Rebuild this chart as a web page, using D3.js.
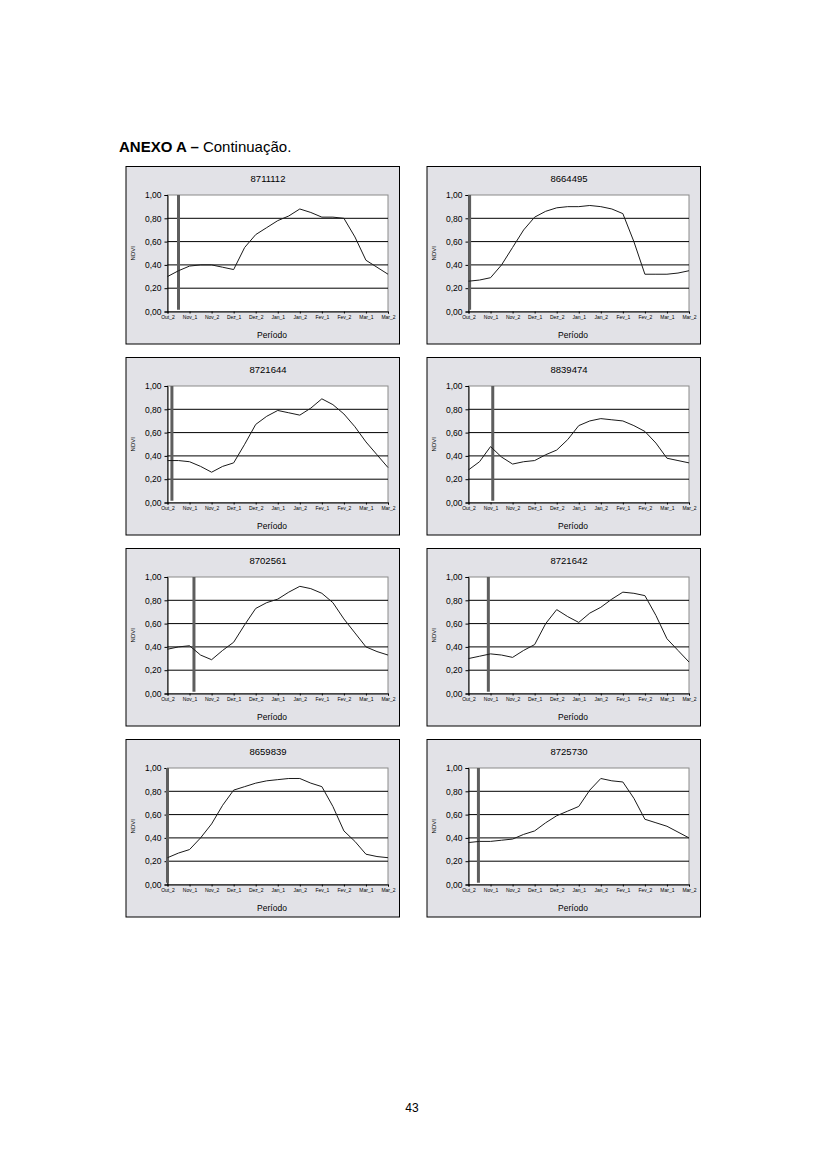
<!DOCTYPE html>
<html lang="pt">
<head>
<meta charset="utf-8">
<title>ANEXO A - Continuação</title>
<script src="https://d3js.org/d3.v7.min.js"></script>
<style>
  body { margin: 0; background: #fff; }
  text { font-family: "Liberation Sans", Arial, sans-serif; fill: #000; }
  .box { fill: #e2e2e7; stroke: #000; stroke-width: 1; }
  .plot { fill: #fff; stroke: #8a8a8a; stroke-width: 1; }
  .grid { stroke: #000; stroke-width: 1; }
  .serie { fill: none; stroke: #1a1a1a; stroke-width: 1; }
  .marco { stroke: #5e5e5e; stroke-width: 3; }
  .axis path, .axis line { stroke: #000; }
</style>
</head>
<body>
<div id="page"></div>
<script>
// tick labels along the x axis (semimonthly periods)
var periodos = ["Out_2", "Nov_1", "Nov_2", "Dez_1", "Dez_2", "Jan_1", "Jan_2", "Fev_1", "Fev_2", "Mar_1", "Mar_2"];
// positions of the samples, in periods (one sample each half period)
var amostras = [0, 0.5, 1, 1.5, 2, 2.5, 3, 3.5, 4, 4.5, 5, 5.5, 6, 6.5, 7, 7.5, 8, 8.5, 9, 9.5, 10];
var yTicks = [0, 0.2, 0.4, 0.6, 0.8, 1.0];

// chart titles
var talhoes = ["8711112", "8664495", "8721644", "8839474", "8702561", "8721642", "8659839", "8725730"];

// NDVI series, one per chart
var ndvi8711112 = [0.30, 0.35, 0.39, 0.40, 0.40, 0.38, 0.36, 0.55, 0.66, 0.72, 0.78, 0.82, 0.88, 0.85, 0.81, 0.81, 0.80, 0.64, 0.44, 0.38, 0.32];
var ndvi8664495 = [0.26, 0.27, 0.29, 0.40, 0.55, 0.70, 0.81, 0.86, 0.89, 0.90, 0.90, 0.91, 0.90, 0.88, 0.84, 0.60, 0.32, 0.32, 0.32, 0.33, 0.35];
var ndvi8721644 = [0.36, 0.36, 0.35, 0.31, 0.26, 0.31, 0.34, 0.50, 0.67, 0.74, 0.79, 0.77, 0.75, 0.81, 0.89, 0.84, 0.76, 0.65, 0.52, 0.41, 0.30];
var ndvi8839474 = [0.28, 0.35, 0.48, 0.39, 0.33, 0.35, 0.36, 0.41, 0.45, 0.54, 0.66, 0.70, 0.72, 0.71, 0.70, 0.66, 0.61, 0.51, 0.38, 0.36, 0.34];
var ndvi8702561 = [0.38, 0.40, 0.41, 0.33, 0.29, 0.37, 0.44, 0.59, 0.73, 0.78, 0.81, 0.87, 0.92, 0.90, 0.86, 0.78, 0.64, 0.52, 0.40, 0.36, 0.33];
var ndvi8721642 = [0.30, 0.32, 0.34, 0.33, 0.31, 0.37, 0.42, 0.60, 0.72, 0.66, 0.61, 0.69, 0.74, 0.81, 0.87, 0.86, 0.84, 0.67, 0.47, 0.37, 0.27];
var ndvi8659839 = [0.23, 0.27, 0.30, 0.40, 0.52, 0.68, 0.81, 0.84, 0.87, 0.89, 0.90, 0.91, 0.91, 0.87, 0.84, 0.67, 0.46, 0.37, 0.26, 0.24, 0.23];
var ndvi8725730 = [0.36, 0.37, 0.37, 0.38, 0.39, 0.43, 0.46, 0.53, 0.59, 0.63, 0.67, 0.81, 0.91, 0.89, 0.88, 0.74, 0.56, 0.53, 0.50, 0.45, 0.40];

// position of the vertical marker, in periods
var marcos = [0.5, 0.05, 0.2, 1.1, 1.2, 0.9, 0.0, 0.45];

var series = [ndvi8711112, ndvi8664495, ndvi8721644, ndvi8839474, ndvi8702561, ndvi8721642, ndvi8659839, ndvi8725730];

var W = 826, H = 1169;
var svg = d3.select("#page").append("svg")
  .attr("width", W).attr("height", H)
  .attr("viewBox", "0 0 " + W + " " + H);

// page heading
var head = svg.append("text").attr("x", 119).attr("y", 152).style("font-size", "15px");
head.append("tspan").style("font-weight", "bold").text("ANEXO A \u2013 ");
head.append("tspan").text("Continuação.");

svg.append("text").attr("x", 412).attr("y", 1112)
  .attr("text-anchor", "middle").style("font-size", "12px").text("43");

var colX = [126, 427], rowY = [166.5, 357.5, 548.5, 739.5];
var boxW = 273.5, boxH = 177.5;
var m = {left: 41.5, right: 11.5, top: 28.5, bottom: 32.5};

var fmt = function(v) { return d3.format(".2f")(v).replace(".", ","); };

series.forEach(function(vals, i) {
  var g = svg.append("g")
    .attr("transform", "translate(" + colX[i % 2] + "," + rowY[Math.floor(i / 2)] + ")");

  var x = d3.scaleLinear().domain([0, periodos.length - 1]).range([m.left, boxW - m.right]);
  var y = d3.scaleLinear().domain([0, 1]).range([boxH - m.bottom, m.top]);

  g.append("rect").attr("class", "box").attr("width", boxW).attr("height", boxH);
  g.append("rect").attr("class", "plot")
    .attr("x", x(0)).attr("y", y(1))
    .attr("width", x(10) - x(0)).attr("height", y(0) - y(1));

  // gridlines
  g.selectAll(".grid").data(yTicks.slice(1, -1)).enter().append("line")
    .attr("class", "grid")
    .attr("x1", x(0)).attr("x2", x(10))
    .attr("y1", function(d) { return y(d); }).attr("y2", function(d) { return y(d); });

  // axes
  var ya = g.append("g").attr("class", "axis")
    .attr("transform", "translate(" + x(0) + ",0)")
    .call(d3.axisLeft(y).tickValues(yTicks).tickFormat(fmt).tickSize(3).tickPadding(3));
  ya.selectAll("text").style("font-size", "8.5px");

  var xa = g.append("g").attr("class", "axis")
    .attr("transform", "translate(0," + y(0) + ")")
    .call(d3.axisBottom(x).tickValues(d3.range(periodos.length))
      .tickFormat(function(d) { return periodos[d]; }).tickSize(2).tickPadding(2));
  xa.selectAll("text").style("font-size", "5px");

  // vertical marker
  g.append("line").attr("class", "marco")
    .attr("x1", x(marcos[i])).attr("x2", x(marcos[i]))
    .attr("y1", y(0.015)).attr("y2", y(1));

  // ndvi line
  var line = d3.line()
    .x(function(d, j) { return x(amostras[j]); })
    .y(function(d) { return y(d); });
  g.append("path").datum(vals).attr("class", "serie").attr("d", line);

  // labels
  g.append("text").attr("x", 142).attr("y", 15)
    .attr("text-anchor", "middle").style("font-size", "9.5px").text(talhoes[i]);
  g.append("text").attr("x", 146).attr("y", 171)
    .attr("text-anchor", "middle").style("font-size", "8.5px").text("Período");
  g.append("text")
    .attr("transform", "translate(9," + (y(0.5)) + ") rotate(-90)")
    .attr("text-anchor", "middle").style("font-size", "6px").text("NDVI");
});
</script>
</body>
</html>
